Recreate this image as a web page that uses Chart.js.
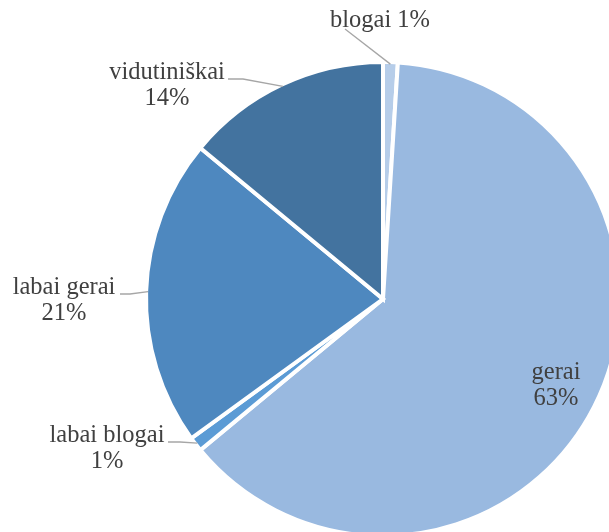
<!DOCTYPE html>
<html>
<head>
<meta charset="utf-8">
<script src="https://cdn.jsdelivr.net/npm/chart.js@4/dist/chart.umd.min.js"></script>
<style>
    html, body { margin: 0; padding: 0; background: #fff; overflow: hidden; }
    #wrap { position: relative; width: 609px; height: 532px; overflow: hidden; }
    #wrap canvas { position: absolute; left: 0; top: 0; }
</style>
</head>
<body>
<div id="wrap"><canvas id="chart1" width="766" height="598"></canvas></div>
<script>
    var categorias = ['blogai', 'gerai', 'labai blogai', 'labai gerai', 'vidutiniškai'];
    var porcentajes = [1, 63, 1, 21, 14];
    var colores = ['#b6cde9', '#99b9e0', '#5b9bd5', '#4e88bf', '#43739f'];

    // donde va cada etiqueta (respecto al centro) y el quiebre de la linea guia
    var posEtiquetas = [
        { x: -3, y: -278, lineas: 1, guia: [[-38, -270]] },
        { x: 173, y: 87, lineas: 2, guia: null },
        { x: -276, y: 150, lineas: 2, guia: [[-215, 143], [-203, 143]] },
        { x: -319, y: 2, lineas: 2, guia: [[-263, -5], [-253, -5]] },
        { x: -216, y: -213, lineas: 2, guia: [[-155, -220], [-140, -220]] }
    ];

    const etiquetas = {
        id: 'etiquetas',
        afterDatasetsDraw: function (chart) {
            const ctx = chart.ctx;
            const meta = chart.getDatasetMeta(0);
            ctx.save();
            ctx.font = '24.5px "Liberation Serif", "Times New Roman", serif';
            ctx.fillStyle = '#404040';
            ctx.textAlign = 'center';
            ctx.textBaseline = 'middle';
            for (var i = 0; i < meta.data.length; i++) {
                const arc = meta.data[i];
                const p = posEtiquetas[i];
                const cx = arc.x, cy = arc.y;
                const pct = porcentajes[i] + '%';

                if (p.guia) {
                    const medio = (arc.startAngle + arc.endAngle) / 2;
                    const r = arc.outerRadius - 2;
                    ctx.beginPath();
                    ctx.strokeStyle = '#a6a6a6';
                    ctx.lineWidth = 1.3;
                    ctx.moveTo(cx + p.guia[0][0], cy + p.guia[0][1]);
                    for (var k = 1; k < p.guia.length; k++) {
                        ctx.lineTo(cx + p.guia[k][0], cy + p.guia[k][1]);
                    }
                    ctx.lineTo(cx + Math.cos(medio) * r, cy + Math.sin(medio) * r);
                    ctx.stroke();
                }

                if (p.lineas == 1) {
                    ctx.fillText(categorias[i] + ' ' + pct, cx + p.x, cy + p.y);
                } else {
                    ctx.fillText(categorias[i], cx + p.x, cy + p.y - 13);
                    ctx.fillText(pct, cx + p.x, cy + p.y + 13);
                }
            }
            ctx.restore();
        }
    };

    const dat = {
        labels: categorias,
        datasets: [{
            data: porcentajes,
            backgroundColor: colores,
            borderColor: '#ffffff',
            borderWidth: 4,
            borderJoinStyle: 'miter'
        }]
    };

    const config = {
        type: 'pie',
        data: dat,
        options: {
            responsive: false,
            animation: false,
            radius: 237,
            layout: { padding: 0 },
            plugins: {
                legend: { display: false },
                tooltip: { enabled: false }
            }
        },
        plugins: [etiquetas]
    };

    const myChart = new Chart(document.getElementById('chart1'), config);
</script>
</body>
</html>
